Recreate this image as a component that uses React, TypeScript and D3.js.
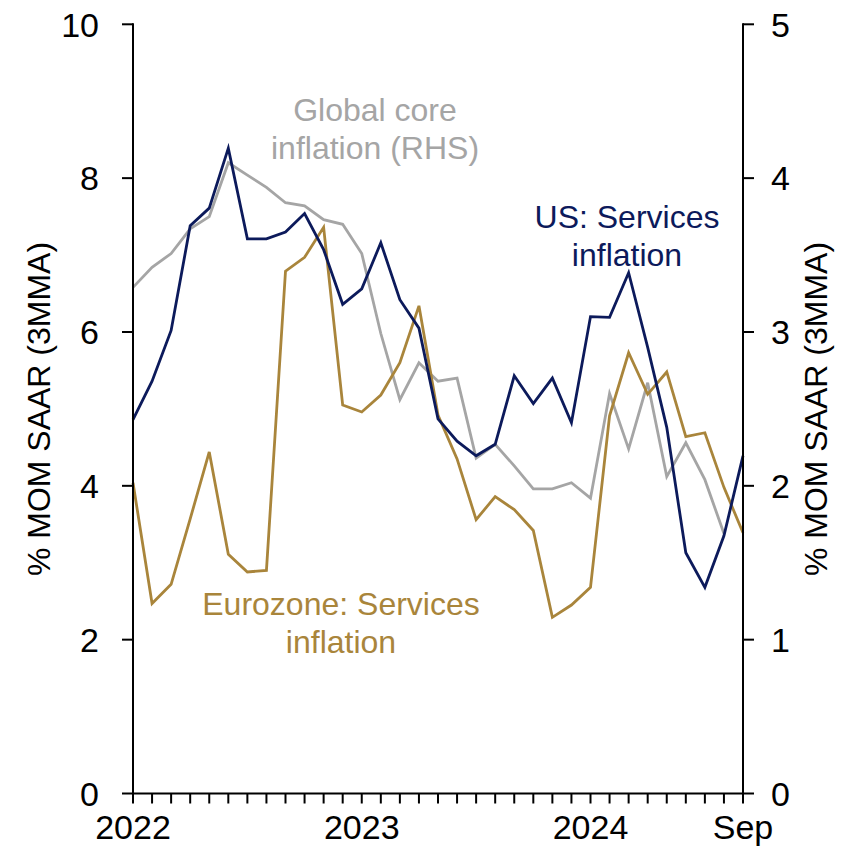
import React from "react";
import * as d3 from "d3";

// Monthly observations, Jan 2022 – Sep 2024 (% MoM SAAR, 3-month moving average)
const months: string[] = d3.timeMonths(new Date(2022, 0, 1), new Date(2024, 9, 1)).map((d) => d3.timeFormat("%Y-%m")(d));

const usServices: number[] = [
  4.86, 5.36, 6.02, 7.38, 7.61, 8.39, 7.21, 7.21, 7.30, 7.54, 7.07, 6.36,
  6.56, 7.16, 6.42, 6.05, 4.87, 4.58, 4.39, 4.54, 5.43, 5.07, 5.40, 4.82,
  6.20, 6.19, 6.77, 5.80, 4.76, 3.13, 2.68, 3.35, 4.39,
];

const euroServices: number[] = [
  4.04, 2.47, 2.72, 3.57, 4.44, 3.11, 2.88, 2.90, 6.79, 6.97, 7.36, 5.05,
  4.96, 5.18, 5.60, 6.34, 4.92, 4.35, 3.56, 3.86, 3.69, 3.42, 2.29, 2.45,
  2.68, 4.91, 5.73, 5.19, 5.48, 4.64, 4.69, 3.98, 3.39,
];

// Right-hand scale, ends in Aug 2024
const globalCore: number[] = [
  3.29, 3.42, 3.51, 3.67, 3.75, 4.10, 4.02, 3.94, 3.84, 3.82, 3.73, 3.70,
  3.51, 2.99, 2.56, 2.80, 2.68, 2.70, 2.18, 2.27, 2.13, 1.98, 1.98, 2.02,
  1.92, 2.60, 2.24, 2.67, 2.06, 2.28, 2.04, 1.69,
];

const leftTicks: number[] = [0, 2, 4, 6, 8, 10];
const rightTicks: number[] = [0, 1, 2, 3, 4, 5];
const xLabels: { index: number; label: string }[] = [
  { index: 0, label: "2022" },
  { index: 12, label: "2023" },
  { index: 24, label: "2024" },
  { index: 32, label: "Sep" },
];

const W = 848;
const H = 847;
const X0 = 133;
const X1 = 743;
const Y0 = 793.5;
const Y1 = 24.3;

const NAVY = "#0c1a5b";
const GOLD = "#a9853b";
const GREY = "#a5a5a5";
const FONT = "'Liberation Sans', Arial, sans-serif";

export default function App() {
  const x = d3.scaleLinear().domain([0, months.length - 1]).range([X0, X1]);
  const yL = d3.scaleLinear().domain([0, 10]).range([Y0, Y1]);
  const yR = d3.scaleLinear().domain([0, 5]).range([Y0, Y1]);

  const lineL = d3
    .line<number>()
    .x((_, i) => x(i))
    .y((v) => yL(v));
  const lineR = d3
    .line<number>()
    .x((_, i) => x(i))
    .y((v) => yR(v));

  return (
    <svg
      width={W}
      height={H}
      viewBox={`0 0 ${W} ${H}`}
      style={{ position: "absolute", left: 0, top: 0, background: "#fff" }}
      fontFamily={FONT}
    >
      {/* series */}
      <path d={lineR(globalCore) || ""} fill="none" stroke={GREY} strokeWidth={2.8} />
      <path d={lineL(euroServices) || ""} fill="none" stroke={GOLD} strokeWidth={2.8} />
      <path d={lineL(usServices) || ""} fill="none" stroke={NAVY} strokeWidth={2.8} />

      {/* axes */}
      <g stroke="#000" strokeWidth={2}>
        <line x1={X0} x2={X0} y1={Y1 - 1} y2={Y0} />
        <line x1={X1} x2={X1} y1={Y1 - 1} y2={Y0} />
        <line x1={X0 - 1} x2={X1 + 1} y1={Y0} y2={Y0} />
        {leftTicks.map((t) => (
          <line key={`l${t}`} x1={X0 - 11} x2={X0} y1={yL(t)} y2={yL(t)} />
        ))}
        {rightTicks.map((t) => (
          <line key={`r${t}`} x1={X1} x2={X1 + 11} y1={yR(t)} y2={yR(t)} />
        ))}
        {months.map((m, i) => (
          <line key={m} x1={x(i)} x2={x(i)} y1={Y0} y2={Y0 + 10} />
        ))}
      </g>

      {/* tick labels */}
      <g fontSize={34} fill="#000">
        {leftTicks.map((t) => (
          <text key={`lt${t}`} x={99} y={yL(t)} dy="0.36em" textAnchor="end">
            {t}
          </text>
        ))}
        {rightTicks.map((t) => (
          <text key={`rt${t}`} x={771} y={yR(t)} dy="0.36em" textAnchor="start">
            {t}
          </text>
        ))}
        {xLabels.map((d) => (
          <text key={d.label} x={x(d.index)} y={839} textAnchor="middle">
            {d.label}
          </text>
        ))}
      </g>

      {/* axis titles */}
      <g fontSize={32} fill="#000" textAnchor="middle">
        <text transform="translate(50,409) rotate(-90)">% MOM SAAR (3MMA)</text>
        <text transform="translate(827,409) rotate(-90)">% MOM SAAR (3MMA)</text>
      </g>

      {/* series labels */}
      <g fontSize={32} textAnchor="middle">
        <text fill={GREY}>
          <tspan x={375} y={121}>Global core</tspan>
          <tspan x={375} y={159}>inflation (RHS)</tspan>
        </text>
        <text fill={NAVY}>
          <tspan x={627} y={228}>US: Services</tspan>
          <tspan x={627} y={266}>inflation</tspan>
        </text>
        <text fill={GOLD}>
          <tspan x={341} y={615}>Eurozone: Services</tspan>
          <tspan x={341} y={653}>inflation</tspan>
        </text>
      </g>
    </svg>
  );
}
